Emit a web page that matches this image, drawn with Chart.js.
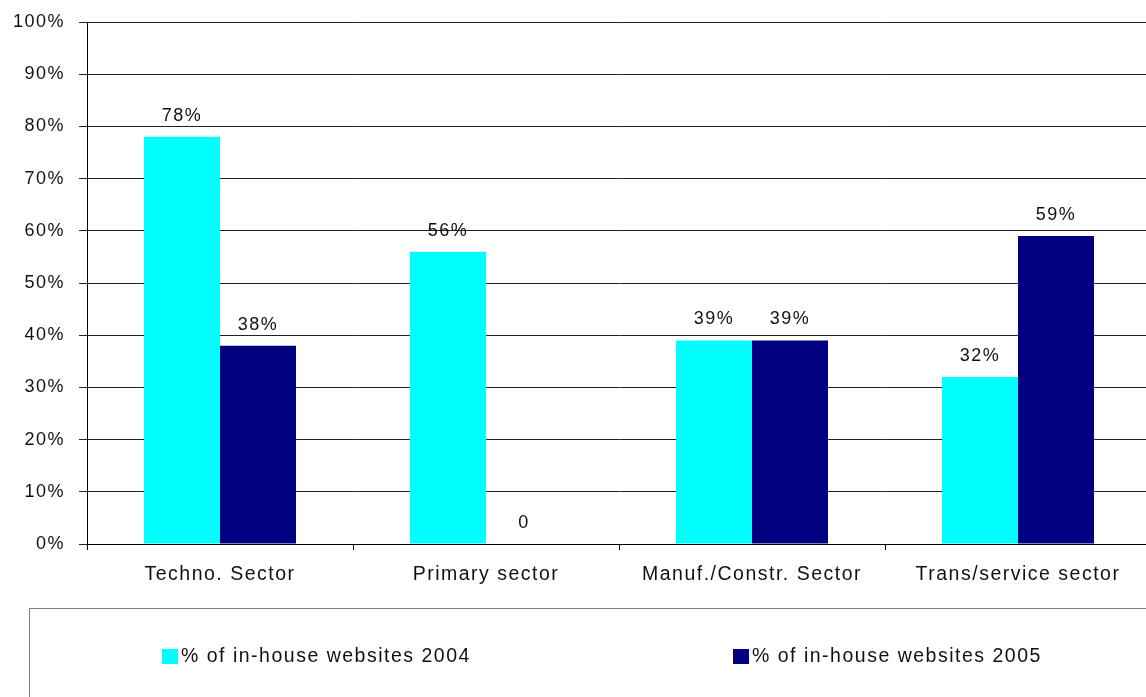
<!DOCTYPE html>
<html>
<head>
<meta charset="utf-8">
<title>In-house websites by sector</title>
<script src="https://cdn.jsdelivr.net/npm/chart.js@4.4.1/dist/chart.umd.min.js"></script>
<style>
  html, body { margin: 0; padding: 0; background: #fff; overflow: hidden; }
  #wrap { width: 1152px; height: 697px; }
</style>
</head>
<body>
<div id="wrap"><canvas id="chart" width="1152" height="697"></canvas></div>
<script>
const categories = ['Techno. Sector', 'Primary sector', 'Manuf./Constr. Sector', 'Trans/service sector'];
const websites2004 = [78, 56, 39, 32];
const websites2005 = [38, 0, 39, 59];
const yTicks = [0, 10, 20, 30, 40, 50, 60, 70, 80, 90, 100];

const FONT = "'Liberation Sans', Arial, sans-serif";
const INK = '#111';

// excel-style wide text
const spacing = {
    id: 'spacing',
    beforeUpdate(chart) { chart.ctx.letterSpacing = '1.5px'; },
    beforeDraw(chart) { chart.ctx.letterSpacing = '1.5px'; }
};

// value labels on top of every bar
const barLabels = {
    id: 'barLabels',
    afterDatasetsDraw(chart) {
        const ctx = chart.ctx;
        ctx.save();
        ctx.font = '18px ' + FONT;
        ctx.fillStyle = INK;
        ctx.textAlign = 'center';
        ctx.textBaseline = 'middle';
        chart.data.datasets.forEach((ds, i) => {
            chart.getDatasetMeta(i).data.forEach((bar, j) => {
                const v = ds.data[j];
                const txt = v === 0 ? '0' : v + '%';
                ctx.fillText(txt, bar.x, bar.y - 21);
            });
        });
        ctx.restore();
    }
};

// boxed legend underneath the axis
const boxLegend = {
    id: 'boxLegend',
    afterDraw(chart) {
        const ctx = chart.ctx;
        ctx.save();
        ctx.strokeStyle = '#808080';
        ctx.lineWidth = 1;
        ctx.strokeRect(29.5, 608.5, 1200, 200);
        ctx.font = '19.5px ' + FONT;
        ctx.textBaseline = 'middle';
        ctx.textAlign = 'left';
        const xs = [162, 733];
        chart.data.datasets.forEach((ds, i) => {
            ctx.fillStyle = ds.backgroundColor;
            ctx.fillRect(xs[i], 649, 16, 15);
            ctx.fillStyle = INK;
            ctx.fillText(ds.label, xs[i] + 19, 657);
        });
        ctx.restore();
    }
};

new Chart(document.getElementById('chart'), {
    type: 'bar',
    data: {
        labels: categories,
        datasets: [
            { label: '% of in-house websites 2004', data: websites2004, backgroundColor: '#00FFFF' },
            { label: '% of in-house websites 2005', data: websites2005, backgroundColor: '#000080' }
        ]
    },
    options: {
        responsive: false,
        animation: false,
        events: [],
        layout: { padding: { left: 0, right: 1, top: 22, bottom: 0 } },
        datasets: {
            bar: { categoryPercentage: 152 / 266, barPercentage: 1 }
        },
        plugins: {
            legend: { display: false },
            tooltip: { enabled: false },
            title: { display: false }
        },
        scales: {
            x: {
                afterFit(scale) {
                    scale.height = 153;
                    scale.paddingLeft = 0;
                    scale.paddingRight = 0;
                },
                grid: { drawOnChartArea: false, offset: true, tickLength: 6, color: '#000' },
                border: { color: '#000', width: 1 },
                ticks: { color: INK, font: { family: FONT, size: 19.5 }, padding: 13, maxRotation: 0 }
            },
            y: {
                min: 0,
                max: 100,
                afterFit(scale) {
                    scale.width = 87;
                    scale.paddingTop = 0;
                    scale.paddingBottom = 0;
                },
                afterBuildTicks(scale) { scale.ticks = yTicks.map(v => ({ value: v })); },
                grid: { color: '#222', tickLength: 8 },
                border: { color: '#000', width: 1 },
                ticks: {
                    color: INK,
                    font: { family: FONT, size: 18 },
                    padding: 14,
                    callback: v => v + '%'
                }
            }
        }
    },
    plugins: [spacing, barLabels, boxLegend]
});
</script>
</body>
</html>
